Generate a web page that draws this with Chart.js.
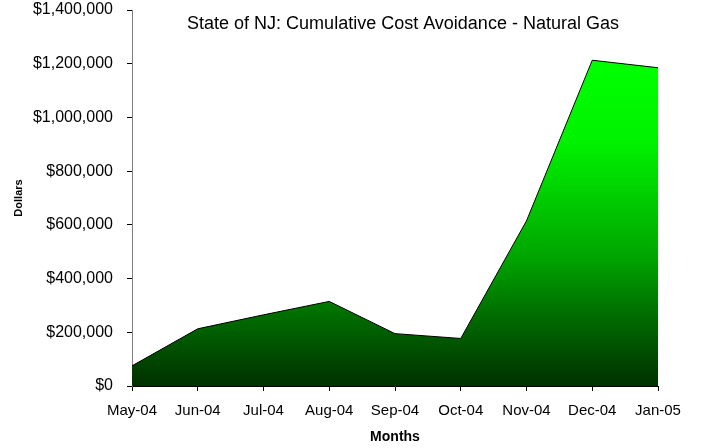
<!DOCTYPE html>
<html>
<head>
<meta charset="utf-8">
<script src="https://cdn.jsdelivr.net/npm/chart.js@4.4.1/dist/chart.umd.min.js"></script>
<style>
  html, body { margin: 0; padding: 0; background: #fff; }
  #wrap { width: 701px; height: 448px; position: relative; }
</style>
</head>
<body>
<div id="wrap"><canvas id="gasChart"></canvas></div>
<script>
// cumulative cost avoidance per month, dollars
var months = ["May-04", "Jun-04", "Jul-04", "Aug-04", "Sep-04", "Oct-04", "Nov-04", "Dec-04", "Jan-05"]
var avoidance = [75000, 213000, 265000, 315000, 195000, 177000, 615000, 1213000, 1185000]
var yTicks = [0, 200000, 400000, 600000, 800000, 1000000, 1200000, 1400000]

var chartTitle = "State of NJ: Cumulative Cost Avoidance - Natural Gas"
var fontFamily = "'Liberation Sans', Arial, sans-serif"

// title sits inside the plot, near the top
var innerTitle = {
  id: "innerTitle",
  afterDraw: function (chart) {
    var ctx = chart.ctx
    var area = chart.chartArea
    ctx.save()
    ctx.font = "18px " + fontFamily
    ctx.fillStyle = "#000"
    ctx.textAlign = "center"
    ctx.textBaseline = "middle"
    ctx.fillText(chartTitle, (area.left + area.right) / 2 + 8, area.top + 14)
    ctx.restore()
  }
}

function greenFill(context) {
  var chart = context.chart
  var area = chart.chartArea
  if (!area) return "#00a000"
  var y = chart.scales.y
  var top = y.getPixelForValue(Math.max.apply(null, avoidance))
  var bottom = y.getPixelForValue(0)
  var g = chart.ctx.createLinearGradient(0, top, 0, bottom)
  g.addColorStop(0, "#00ff00")
  g.addColorStop(0.25, "#00f200")
  g.addColorStop(0.6, "#00a600")
  g.addColorStop(0.8, "#006800")
  g.addColorStop(1, "#003000")
  return g
}

new Chart(document.getElementById("gasChart"), {
  type: "line",
  data: {
    labels: months,
    datasets: [{
      data: avoidance,
      fill: "origin",
      backgroundColor: greenFill,
      borderColor: "#000",
      borderWidth: 1,
      tension: 0,
      pointRadius: 0
    }]
  },
  options: {
    responsive: true,
    maintainAspectRatio: false,
    animation: false,
    layout: { padding: { top: 0, right: 43, bottom: 0, left: 0 } },
    plugins: {
      legend: { display: false },
      title: { display: false },
      tooltip: { enabled: false }
    },
    scales: {
      x: {
        offset: false,
        afterFit: function (scale) { scale.height = 62 },
        grid: { display: true, drawOnChartArea: false, drawTicks: true, tickLength: 5, color: "#000" },
        border: { display: true, color: "#000" },
        ticks: { color: "#000", font: { family: fontFamily, size: 15 }, padding: 11, maxRotation: 0, autoSkip: false },
        title: {
          display: true,
          text: "Months",
          color: "#000",
          font: { family: fontFamily, size: 14, weight: "bold" },
          padding: { top: 0, bottom: 2 }
        }
      },
      y: {
        min: 0,
        max: 1400000,
        afterFit: function (scale) {
          scale.width = 132
          // keep the plot top close to the canvas edge
          scale.paddingTop = 10
          scale.paddingBottom = 0
        },
        afterBuildTicks: function (scale) {
          scale.ticks = yTicks.map(function (v) { return { value: v } })
        },
        grid: { display: true, drawOnChartArea: false, drawTicks: true, tickLength: 5, color: "#000" },
        border: { display: true, color: "#808080" },
        ticks: {
          color: "#000",
          padding: 14,
          font: { family: fontFamily, size: 16 },
          callback: function (v) { return "$" + v.toLocaleString("en-US") }
        },
        title: {
          display: true,
          text: "Dollars",
          color: "#000",
          font: { family: fontFamily, size: 11, weight: "bold" },
          padding: { top: 12, bottom: 0 }
        }
      }
    }
  },
  plugins: [innerTitle]
})
</script>
</body>
</html>
